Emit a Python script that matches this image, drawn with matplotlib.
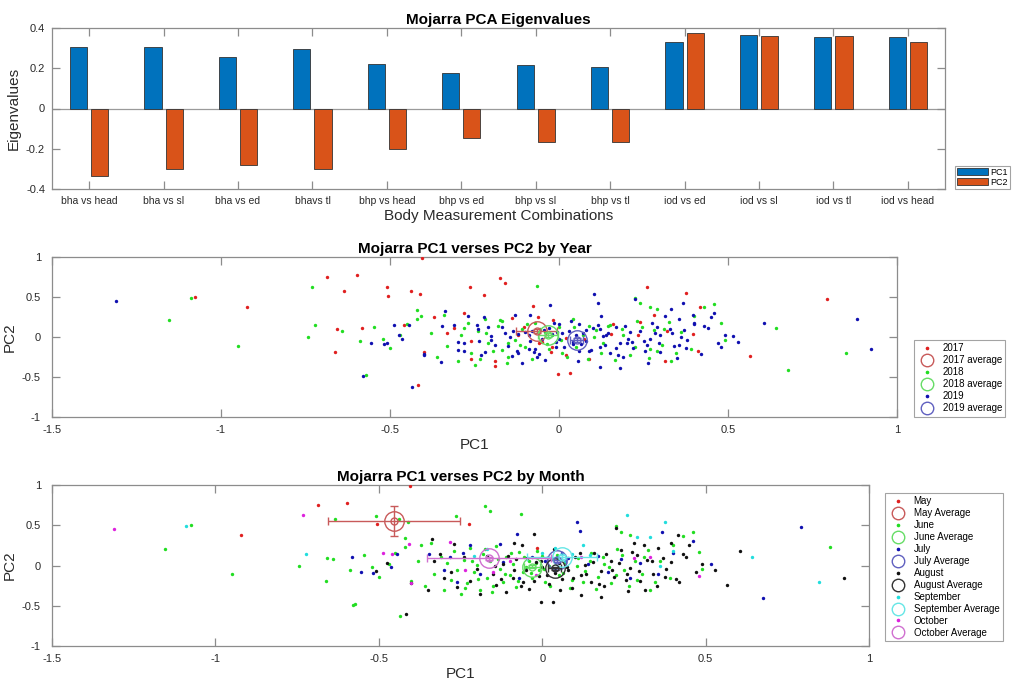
import matplotlib
matplotlib.use("Agg")
import matplotlib.pyplot as plt
from matplotlib.lines import Line2D
from matplotlib.patches import Patch
import numpy as np

plt.rcParams["font.family"] = ["Liberation Sans", "DejaVu Sans"]

# ─── Eigenvalue bars ──────────────────────────────────────────────────────────
combos = ["bha vs head", "bha vs sl", "bha vs ed", "bhavs tl", "bhp vs head",
          "bhp vs ed", "bhp vs sl", "bhp vs tl", "iod vs ed", "iod vs sl",
          "iod vs tl", "iod vs head"]
pc1_eig = [0.308, 0.305, 0.257, 0.295, 0.219, 0.177, 0.214, 0.205, 0.328, 0.366, 0.356, 0.353]
pc2_eig = [-0.336, -0.303, -0.282, -0.303, -0.199, -0.149, -0.167, -0.167, 0.376, 0.361, 0.361, 0.328]

# ─── PCA scores, grouped by month: (PC1, PC2, year) ───────────────────────────
may_pts = [(-0.922, 0.379, 2017), (-0.687, 0.755, 2017), (-0.597, 0.772, 2017),
           (-0.505, 0.51, 2017), (-0.405, 0.983, 2017), (-0.223, 0.52, 2017),
           (-0.017, 0.217, 2017)]

june_pts = [(-1.076, 0.506, 2017), (-1.154, 0.207, 2018), (-0.95, -0.108, 2018),
            (-0.635, 0.573, 2017), (-0.744, 0.0, 2018), (-0.658, 0.095, 2017),
            (-0.641, 0.079, 2018), (-0.663, -0.187, 2017), (-0.589, -0.054, 2018),
            (-0.58, -0.49, 2019), (-0.572, -0.475, 2018), (-0.51, 0.62, 2017),
            (-0.437, 0.58, 2017), (-0.41, 0.536, 2017), (-0.434, -0.63, 2019),
            (-0.176, 0.739, 2017), (-0.159, 0.681, 2017), (-0.066, 0.643, 2018),
            (-0.263, 0.619, 2017), (-0.52, -0.02, 2018), (-0.50, -0.14, 2018),
            (-0.546, 0.13, 2018), (-0.47, 0.02, 2018), (-0.45, 0.16, 2018),
            (-0.42, 0.34, 2018), (-0.419, 0.23, 2018), (-0.40, -0.19, 2017),
            (-0.38, 0.05, 2018), (-0.37, 0.25, 2017), (-0.36, -0.25, 2018),
            (-0.34, 0.28, 2018), (-0.33, -0.11, 2018), (-0.31, 0.11, 2017),
            (-0.30, -0.30, 2018), (-0.29, 0.03, 2018), (-0.28, -0.18, 2019),
            (-0.27, 0.18, 2018), (-0.26, -0.05, 2017), (-0.25, -0.35, 2018),
            (-0.24, 0.07, 2018), (-0.23, -0.22, 2019), (-0.22, 0.22, 2018),
            (-0.21, -0.08, 2018), (-0.20, 0.01, 2019), (-0.19, -0.30, 2017),
            (-0.18, 0.14, 2018), (-0.17, -0.16, 2018), (-0.16, 0.05, 2019),
            (-0.15, -0.25, 2018), (-0.14, 0.24, 2017), (-0.13, -0.04, 2018),
            (-0.12, -0.20, 2019), (-0.11, 0.10, 2018), (-0.10, -0.12, 2018),
            (-0.09, 0.02, 2019), (-0.08, -0.27, 2018), (-0.07, 0.17, 2018),
            (-0.06, -0.08, 2017), (-0.05, -0.02, 2019), (-0.04, 0.06, 2018),
            (-0.03, -0.15, 2018), (-0.02, 0.03, 2018), (-0.01, -0.06, 2019),
            (0.0, 0.12, 2018), (0.01, -0.20, 2018), (0.02, -0.01, 2017),
            (0.03, 0.08, 2019), (0.05, -0.12, 2018), (0.07, 0.03, 2018),
            (0.09, -0.18, 2019), (0.11, 0.09, 2018), (0.13, -0.07, 2018),
            (0.15, 0.15, 2018), (0.17, -0.14, 2019), (0.19, 0.02, 2018),
            (0.21, -0.22, 2018), (0.23, 0.20, 2018), (0.24, 0.42, 2018),
            (0.225, 0.49, 2018), (0.25, -0.05, 2019), (0.27, 0.38, 2018),
            (0.29, -0.18, 2018), (0.31, 0.10, 2018), (0.33, -0.30, 2018),
            (0.36, 0.06, 2018), (0.39, -0.15, 2018), (0.40, 0.26, 2018),
            (0.43, 0.37, 2018), (0.46, 0.41, 2018), (0.48, 0.17, 2018),
            (0.49, -0.04, 2018), (0.881, 0.226, 2019),
            (-0.135, 0.08, 2019), (-0.115, -0.1, 2018), (-0.095, 0.16, 2018),
            (-0.075, -0.19, 2019), (-0.055, 0.1, 2018), (-0.035, -0.09, 2018),
            (-0.015, 0.18, 2019), (0.005, -0.04, 2018), (0.025, -0.25, 2018),
            (0.045, 0.13, 2018), (0.065, -0.09, 2019), (0.085, -0.28, 2018),
            (0.105, 0.0, 2018), (0.125, -0.2, 2018), (0.145, 0.05, 2019),
            (0.165, -0.29, 2018), (0.185, 0.1, 2018), (0.205, -0.02, 2019),
            (0.225, -0.12, 2018), (0.245, 0.13, 2018), (0.265, -0.26, 2018),
            (0.285, 0.05, 2019), (0.305, -0.1, 2018), (0.325, 0.19, 2018),
            (0.345, -0.2, 2018), (-0.235, -0.28, 2018), (-0.215, 0.05, 2018),
            (-0.195, -0.17, 2018), (-0.175, 0.21, 2018), (-0.155, -0.33, 2018)]

july_pts = [(-0.583, 0.108, 2017), (-0.555, -0.079, 2019), (-0.519, -0.092, 2019),
            (-0.445, 0.148, 2019), (-0.345, 0.139, 2019), (-0.281, 0.107, 2018),
            (-0.243, 0.156, 2019), (-0.221, 0.249, 2019), (-0.13, 0.27, 2019),
            (-0.076, 0.387, 2017), (-0.464, -0.021, 2019), (-0.30, -0.06, 2019),
            (-0.26, -0.2, 2018), (-0.19, -0.1, 2019), (-0.12, 0.04, 2019),
            (-0.07, -0.15, 2019), (-0.03, 0.11, 2019), (0.01, 0.05, 2019),
            (0.04, -0.06, 2019), (0.06, 0.16, 2019), (0.08, 0.09, 2019),
            (0.105, 0.536, 2019), (0.115, 0.43, 2019), (0.14, 0.02, 2019),
            (0.17, 0.12, 2019), (0.20, -0.08, 2019), (0.24, 0.08, 2019),
            (0.27, -0.15, 2018), (0.30, 0.03, 2019), (0.355, -0.105, 2019),
            (0.367, 0.42, 2019), (0.40, 0.16, 2019), (0.46, 0.30, 2019),
            (0.516, 0.015, 2019), (0.677, -0.408, 2018), (0.792, 0.474, 2017)]

august_pts = [(-0.418, -0.60, 2017), (-0.509, -0.072, 2019), (-0.474, 0.031, 2019),
              (-0.336, 0.325, 2019), (-0.27, 0.262, 2019), (-0.312, 0.148, 2019),
              (-0.086, 0.278, 2019), (-0.063, 0.254, 2017), (-0.026, 0.395, 2019),
              (0.565, -0.24, 2017), (0.606, 0.175, 2019), (0.924, -0.15, 2019),
              (-0.003, -0.457, 2017), (0.034, -0.45, 2017), (0.179, -0.39, 2019),
              (0.12, -0.37, 2019), (0.416, 0.38, 2017), (0.226, 0.47, 2019),
              (0.262, -0.32, 2019), (0.313, 0.26, 2019), (0.28, 0.28, 2017),
              (0.395, 0.28, 2019), (0.45, 0.25, 2019), (-0.40, -0.22, 2019),
              (-0.35, -0.31, 2019), (-0.33, 0.05, 2017), (-0.30, -0.16, 2019),
              (-0.28, -0.08, 2019), (-0.26, -0.27, 2017), (-0.24, 0.10, 2019),
              (-0.22, -0.19, 2019), (-0.20, -0.04, 2019), (-0.19, -0.36, 2017),
              (-0.17, 0.12, 2019), (-0.15, -0.11, 2019), (-0.14, -0.24, 2019),
              (-0.12, 0.02, 2017), (-0.11, -0.33, 2019), (-0.09, -0.15, 2019),
              (-0.08, 0.08, 2019), (-0.06, -0.21, 2019), (-0.05, -0.06, 2017),
              (-0.04, -0.29, 2019), (-0.02, 0.04, 2019), (-0.01, -0.13, 2019),
              (0.00, -0.02, 2019), (0.02, -0.23, 2017), (0.04, -0.09, 2019),
              (0.05, 0.03, 2019), (0.06, -0.17, 2019), (0.08, -0.05, 2019),
              (0.09, -0.28, 2017), (0.10, 0.11, 2019), (0.12, -0.12, 2019),
              (0.13, 0.01, 2019), (0.15, -0.20, 2019), (0.16, 0.16, 2017),
              (0.18, -0.07, 2019), (0.19, -0.25, 2019), (0.21, 0.06, 2019),
              (0.22, -0.14, 2019), (0.24, 0.19, 2017), (0.26, -0.10, 2019),
              (0.27, -0.03, 2019), (0.29, 0.13, 2019), (0.30, -0.19, 2019),
              (0.32, 0.07, 2017), (0.34, -0.11, 2019), (0.35, -0.26, 2019),
              (0.37, 0.09, 2019), (0.38, -0.04, 2019), (0.41, -0.17, 2017),
              (0.43, 0.14, 2019), (0.47, -0.08, 2019), (0.49, 0.02, 2019),
              (0.53, -0.06, 2019),
              (-0.145, 0.0, 2019), (-0.125, -0.17, 2019), (-0.105, 0.12, 2017),
              (-0.085, -0.05, 2019), (-0.065, -0.25, 2019), (-0.045, 0.09, 2019),
              (-0.025, -0.19, 2017), (-0.005, 0.06, 2019), (0.015, -0.12, 2019),
              (0.035, 0.2, 2019), (0.055, -0.3, 2019), (0.075, -0.02, 2017),
              (0.095, -0.16, 2019), (0.115, 0.15, 2019), (0.135, -0.1, 2019),
              (0.155, 0.04, 2017), (0.175, -0.23, 2019), (0.195, 0.14, 2019),
              (0.215, -0.06, 2019), (0.235, 0.03, 2017), (0.255, -0.18, 2019),
              (0.275, 0.17, 2019), (0.295, -0.07, 2019), (0.315, -0.3, 2017),
              (0.335, 0.05, 2019), (0.355, 0.22, 2019), (0.375, -0.14, 2019),
              (0.395, 0.04, 2017), (0.42, -0.21, 2019), (0.44, 0.11, 2019)]

september_pts = [(-1.09, 0.485, 2018), (-0.723, 0.149, 2018), (-0.21, 0.12, 2019),
                 (-0.17, 0.20, 2018), (0.0, 0.16, 2019), (0.04, 0.22, 2018),
                 (0.07, 0.05, 2019), (0.09, 0.14, 2018), (0.125, 0.259, 2019),
                 (0.146, 0.135, 2018), (0.259, 0.631, 2017), (0.29, 0.354, 2018),
                 (0.33, 0.354, 2019), (0.36, 0.0, 2019), (0.376, 0.544, 2017),
                 (0.40, 0.18, 2019), (0.641, 0.11, 2018), (0.848, -0.2, 2018)]

october_pts = [(-1.31, 0.45, 2019), (-0.732, 0.622, 2018), (-0.488, 0.156, 2019),
               (-0.459, 0.148, 2017), (-0.409, 0.262, 2018), (-0.40, -0.217, 2019),
               (-0.281, 0.295, 2017), (-0.236, -0.05, 2019), (-0.15, -0.08, 2018),
               (-0.10, 0.06, 2019), (-0.02, -0.12, 2017), (0.12, 0.10, 2019),
               (0.281, 0.093, 2018), (0.329, 0.105, 2019), (0.48, -0.126, 2019)]

months = ["May", "June", "July", "August", "September", "October"]
years = [2017, 2018, 2019]

# group averages with their spread (PC1, PC2, err PC1, err PC2)
year_avg_pc1 = [-0.066, -0.032, 0.052]
year_avg_pc2 = [0.075, 0.025, -0.037]
year_err_pc1 = [0.06, 0.03, 0.02]
year_err_pc2 = [0.03, 0.02, 0.02]

month_avg_pc1 = [-0.453, -0.032, 0.044, 0.039, 0.06, -0.163]
month_avg_pc2 = [0.551, -0.015, 0.068, -0.035, 0.105, 0.089]
month_err_pc1 = [0.202, 0.025, 0.03, 0.02, 0.107, 0.19]
month_err_pc2 = [0.183, 0.02, 0.025, 0.02, 0.03, 0.02]

# ─── Colours ──────────────────────────────────────────────────────────────────
PC_COLORS = ["#0072BD", "#D95319"]
YEAR_DOT = ["#e02020", "#22dd22", "#1010b0"]
YEAR_RING = ["#c85a5a", "#66dd66", "#6060c0"]
MONTH_DOT = ["#e02020", "#22dd22", "#1010b0", "#111111", "#22dddd", "#dd22dd"]
MONTH_RING = ["#c85a5a", "#66dd66", "#6060c0", "#333333", "#66e6e6", "#d070d0"]
SPINE = "#8c8c8c"
TEXT = "#2a2a2a"

W, H = 1019, 683


def fig_box(x0, y0, x1, y1):
    """Pixel box (top-left origin) to figure-fraction [left, bottom, width, height]."""
    return [x0 / W, 1 - y1 / H, (x1 - x0) / W, (y1 - y0) / H]


def style_axes(ax):
    for sp in ax.spines.values():
        sp.set_color(SPINE)
        sp.set_linewidth(0.9)
    ax.tick_params(direction="in", length=6, width=0.9, color=SPINE,
                   top=True, right=True, labelsize=8, labelcolor=TEXT, pad=5)


fig = plt.figure(figsize=(W / 100, H / 100), dpi=100)

# ── Eigenvalue bar chart ──────────────────────────────────────
ax1 = fig.add_axes(fig_box(52, 28, 945, 189))
xpos = np.arange(len(combos))
bw = 0.23
ax1.bar(xpos - 0.142, pc1_eig, bw, color=PC_COLORS[0], edgecolor="#333333", linewidth=0.6, zorder=2)
ax1.bar(xpos + 0.142, pc2_eig, bw, color=PC_COLORS[1], edgecolor="#333333", linewidth=0.6, zorder=2)
ax1.axhline(0, color="#9a9a9a", lw=0.9, zorder=1)
ax1.set_xlim(-0.5, len(combos) - 0.5)
ax1.set_ylim(-0.4, 0.4)
ax1.set_xticks(xpos)
ax1.set_xticklabels(combos)
ax1.set_yticks([-0.4, -0.2, 0, 0.2, 0.4])
ax1.set_yticklabels(["-0.4", "-0.2", "0", "0.2", "0.4"])
style_axes(ax1)
ax1.tick_params(axis="x", labelsize=7.5)
ax1.set_title("Mojarra PCA Eigenvalues", fontsize=11, fontweight="bold", pad=3)
ax1.set_xlabel("Body Measurement Combinations", fontsize=11, color=TEXT, labelpad=2)
ax1.set_ylabel("Eigenvalues", fontsize=11, color=TEXT, labelpad=4)
leg1 = fig.legend(handles=[Patch(facecolor=PC_COLORS[0], edgecolor="#333333", lw=0.6, label="PC1"),
                           Patch(facecolor=PC_COLORS[1], edgecolor="#333333", lw=0.6, label="PC2")],
                  loc="lower left", bbox_to_anchor=(955 / W, 1 - 189 / H), fontsize=6.5,
                  frameon=True, fancybox=False, handlelength=3.4, handleheight=0.9,
                  borderpad=0.25, labelspacing=0.1, handletextpad=0.3, borderaxespad=0)
leg1.get_frame().set_edgecolor(SPINE)
leg1.get_frame().set_linewidth(0.8)

all_pts = may_pts + june_pts + july_pts + august_pts + september_pts + october_pts
month_pts = [may_pts, june_pts, july_pts, august_pts, september_pts, october_pts]


def scatter_axes(ax, title):
    ax.set_xlim(-1.5, 1)
    ax.set_ylim(-1, 1)
    ax.set_xticks([-1.5, -1, -0.5, 0, 0.5, 1])
    ax.set_xticklabels(["-1.5", "-1", "-0.5", "0", "0.5", "1"])
    ax.set_yticks([-1, -0.5, 0, 0.5, 1])
    ax.set_yticklabels(["-1", "-0.5", "0", "0.5", "1"])
    style_axes(ax)
    ax.tick_params(axis="y", pad=8)
    ax.tick_params(axis="x", pad=6)
    ax.set_title(title, fontsize=11, fontweight="bold", pad=3)
    ax.set_xlabel("PC1", fontsize=11, color=TEXT, labelpad=2)
    ax.set_ylabel("PC2", fontsize=11, color=TEXT, labelpad=4)


def draw_average(ax, x, y, ex, ey, color):
    ax.errorbar(x, y, xerr=ex, yerr=ey, fmt="o", ms=5, mfc="none", mec=color,
                ecolor=color, color=color, elinewidth=1.0, capsize=3, capthick=1.0, zorder=4)
    ax.plot(x, y, "o", ms=14, mfc="none", mec=color, mew=1.0, zorder=4)


def avg_legend(fig, handles, anchor_px):
    leg = fig.legend(handles=handles, loc="upper left",
                     bbox_to_anchor=(anchor_px[0] / W, 1 - anchor_px[1] / H), fontsize=7,
                     frameon=True, fancybox=False, handlelength=2.0, borderpad=0.35,
                     labelspacing=0.2, handletextpad=0.6, borderaxespad=0)
    leg.get_frame().set_edgecolor(SPINE)
    leg.get_frame().set_linewidth(0.8)
    return leg


# ── PC1 vs PC2 by year ────────────────────────────────────────
ax2 = fig.add_axes(fig_box(52, 257, 897, 417))
handles = []
for i, yr in enumerate(years):
    xs = [p[0] for p in all_pts if p[2] == yr]
    ys = [p[1] for p in all_pts if p[2] == yr]
    ax2.scatter(xs, ys, s=6, color=YEAR_DOT[i], linewidths=0, zorder=3)
    draw_average(ax2, year_avg_pc1[i], year_avg_pc2[i], year_err_pc1[i], year_err_pc2[i], YEAR_RING[i])
    handles.append(Line2D([], [], ls="none", marker="o", ms=1.6, color=YEAR_DOT[i], label=str(yr)))
    handles.append(Line2D([], [], ls="none", marker="o", ms=9, mfc="none", mec=YEAR_RING[i],
                          label=f"{yr} average"))
scatter_axes(ax2, "Mojarra PC1 verses PC2 by Year")
avg_legend(fig, handles, (914, 340))

# ── PC1 vs PC2 by month ───────────────────────────────────────
ax3 = fig.add_axes(fig_box(52, 485, 869, 646))
handles = []
for i, name in enumerate(months):
    pts = month_pts[i]
    ax3.scatter([p[0] for p in pts], [p[1] for p in pts], s=6, color=MONTH_DOT[i],
                linewidths=0, zorder=3)
    draw_average(ax3, month_avg_pc1[i], month_avg_pc2[i], month_err_pc1[i], month_err_pc2[i],
                 MONTH_RING[i])
    handles.append(Line2D([], [], ls="none", marker="o", ms=1.6, color=MONTH_DOT[i], label=name))
    handles.append(Line2D([], [], ls="none", marker="o", ms=9, mfc="none", mec=MONTH_RING[i],
                          label=f"{name} Average"))
scatter_axes(ax3, "Mojarra PC1 verses PC2 by Month")
avg_legend(fig, handles, (885, 493))

fig.savefig("out.png", dpi=100)
